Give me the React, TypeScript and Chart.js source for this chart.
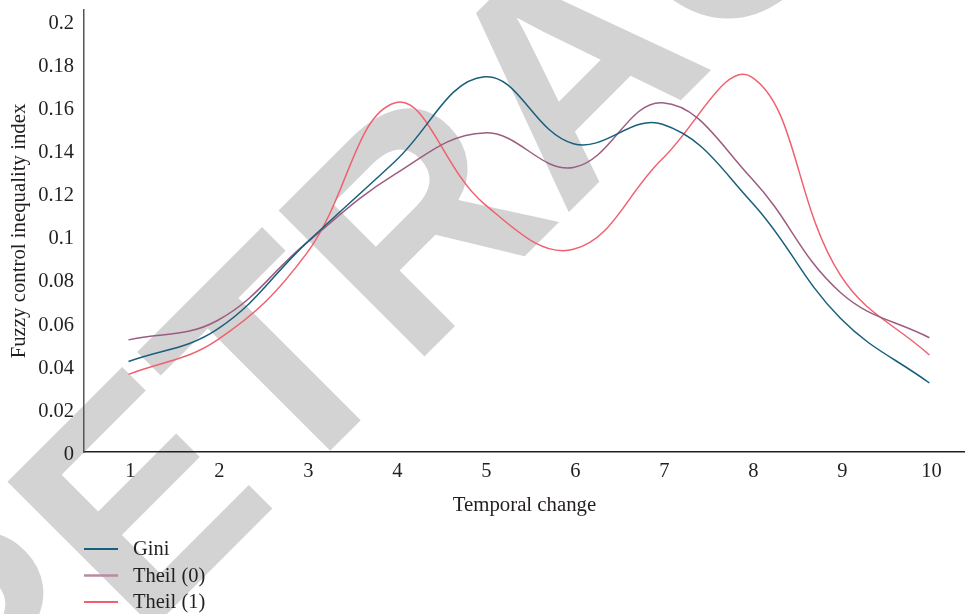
import React, { useEffect, useRef } from "react";
import { Chart, registerables } from "chart.js";

Chart.register(...registerables);

const xValues = [1, 2, 3, 4, 5, 6, 7, 8, 9, 10];
const yTicks = [0, 0.02, 0.04, 0.06, 0.08, 0.1, 0.12, 0.14, 0.16, 0.18, 0.2];
const gini = [0.042, 0.057, 0.097, 0.135, 0.174, 0.143, 0.152, 0.116, 0.062, 0.032];
const theil0 = [0.052, 0.061, 0.097, 0.129, 0.148, 0.132, 0.162, 0.127, 0.074, 0.053];
const theil1 = [0.036, 0.052, 0.092, 0.162, 0.115, 0.094, 0.136, 0.174, 0.082, 0.045];
const seriesNames = ["Gini", "Theil (0)", "Theil (1)"];
const seriesColors = ["#185f7d", "#9c5d7f", "#f0606f"];
const legendColors = ["#185f7d", "#b88aa5", "#f0606f"];
const xTitle = "Temporal change";
const yTitle = "Fuzzy control inequality index";
const watermark = "RETRACTED";

const FONT_FAMILY = "'Liberation Serif', 'Times New Roman', serif";
const TEXT_COLOR = "#231f20";

const watermarkPlugin = {
  id: "watermark",
  beforeDraw(chart: any) {
    const ctx = chart.ctx;
    ctx.save();
    ctx.translate(-14, 795);
    ctx.rotate((-45 * Math.PI) / 180);
    ctx.font = "bold 300px 'Liberation Sans', Arial, sans-serif";
    ctx.fillStyle = "#d3d3d3";
    ctx.textBaseline = "alphabetic";
    ctx.textAlign = "left";
    ctx.fillText(watermark, 0, 0);
    ctx.restore();
  },
};

const legendPlugin = {
  id: "customLegend",
  afterDraw(chart: any) {
    const ctx = chart.ctx;
    ctx.save();
    ctx.font = `20.5px ${FONT_FAMILY}`;
    ctx.textBaseline = "middle";
    ctx.textAlign = "left";
    const rows = [549, 575.5, 602];
    chart.data.datasets.forEach((ds: any, i: number) => {
      const y = rows[i];
      ctx.strokeStyle = legendColors[i];
      ctx.lineWidth = i === 1 ? 2.5 : 1.8;
      ctx.beginPath();
      ctx.moveTo(84, y);
      ctx.lineTo(118, y);
      ctx.stroke();
      ctx.fillStyle = TEXT_COLOR;
      ctx.fillText(ds.label, 133, y + 1);
    });
    ctx.restore();
  },
};

export default function App() {
  const canvasRef = useRef<HTMLCanvasElement | null>(null);

  useEffect(() => {
    if (!canvasRef.current) return;
    const font = { family: FONT_FAMILY, size: 20.5 };
    const titleFont = { family: FONT_FAMILY, size: 20.8 };
    const allSeries = [gini, theil0, theil1];
    const chart = new Chart(canvasRef.current, {
      type: "line",
      data: {
        datasets: allSeries.map((vals, i) => ({
          label: seriesNames[i],
          data: xValues.map((x, j) => ({ x, y: vals[j] })),
          borderColor: seriesColors[i],
          backgroundColor: seriesColors[i],
          borderWidth: 1.5,
          pointRadius: 0,
          tension: 0.4,
          fill: false,
        })),
      },
      options: {
        animation: false,
        responsive: false,
        devicePixelRatio: 1,
        layout: { padding: { left: 0, right: 0, top: 10, bottom: 92 } },
        plugins: {
          legend: { display: false },
          tooltip: { enabled: false },
        },
        scales: {
          x: {
            type: "linear",
            min: 0.5,
            max: 10.4,
            grid: { display: false, drawTicks: false },
            border: { display: true, color: "#231f20", width: 1.5 },
            afterBuildTicks: (s: any) => {
              s.ticks = xValues.map((v) => ({ value: v }));
            },
            afterFit: (s: any) => {
              s.height = 70;
              s.paddingLeft = 0;
              s.paddingRight = 0;
            },
            ticks: {
              padding: 7,
              labelOffset: 2,
              font,
              color: TEXT_COLOR,
              maxRotation: 0,
              autoSkip: false,
              callback: (v: any) => String(v),
            },
            title: {
              display: true,
              text: xTitle,
              font: titleFont,
              color: TEXT_COLOR,
              padding: { top: 0, bottom: 4 },
            },
          },
          y: {
            type: "linear",
            min: 0,
            max: 0.205,
            grid: { display: false, drawTicks: false },
            border: { display: true, color: "#555555", width: 1.5 },
            afterBuildTicks: (s: any) => {
              s.ticks = yTicks.map((v) => ({ value: v }));
            },
            afterFit: (s: any) => {
              s.width = 84;
              s.paddingTop = 0;
              s.paddingBottom = 0;
            },
            ticks: {
              padding: 10,
              labelOffset: 2.5,
              font,
              color: TEXT_COLOR,
              autoSkip: false,
              callback: (v: any) => String(Number(Number(v).toFixed(2))),
            },
            title: {
              display: true,
              text: yTitle,
              font: titleFont,
              color: TEXT_COLOR,
              padding: { top: 7, bottom: 0 },
            },
          },
        },
      },
      plugins: [watermarkPlugin, legendPlugin],
    });
    return () => chart.destroy();
  }, []);

  return (
    <div style={{ position: "absolute", left: 0, top: 0, width: 965, height: 614, background: "#ffffff" }}>
      <canvas ref={canvasRef} width={965} height={614} style={{ display: "block" }} />
    </div>
  );
}
